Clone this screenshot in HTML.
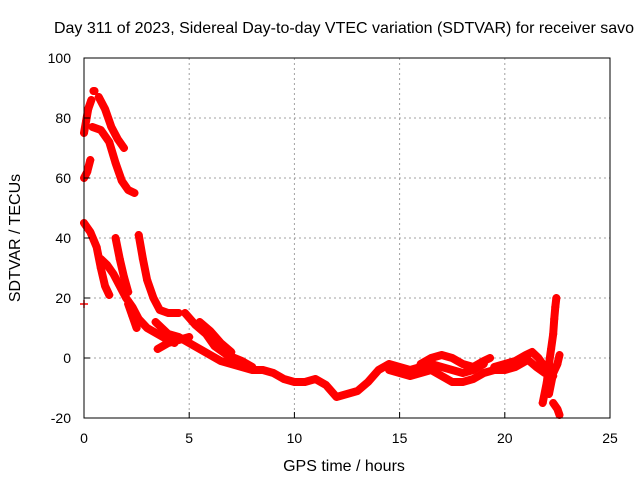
<!DOCTYPE html>
<html><head><meta charset="utf-8"><style>
body{margin:0;background:#fff}
svg{display:block;font-family:"Liberation Sans",sans-serif}
</style></head><body>
<svg id="chart" width="640" height="480">
<rect width="640" height="480" fill="#fff"/>
<g id="grid"></g>
<g id="series"></g>
<rect x="84" y="58" width="526" height="360" fill="none" stroke="#000" stroke-width="1"/>
<g id="ticks"></g>
<text x="344" y="33" text-anchor="middle" font-size="16">Day 311 of 2023, Sidereal Day-to-day VTEC variation (SDTVAR) for receiver savo</text>
<text x="344" y="471" text-anchor="middle" font-size="16">GPS time / hours</text>
<text transform="translate(20,238) rotate(-90)" text-anchor="middle" font-size="16">SDTVAR / TECUs</text>
</svg>
<script>
const xTicks=[0,5,10,15,20,25];
const yTicks=[-20,0,20,40,60,80,100];
const tracks=[
[[0,60],[0.15,62],[0.3,66]],
[[0,75],[0.1,79],[0.2,83],[0.35,86]],
[[0.45,89],[0.5,89]],
[[0.7,87],[1.0,83],[1.3,77],[1.6,73],[1.9,70]],
[[0.4,77],[0.8,76],[1.2,72],[1.5,65],[1.8,59],[2.1,56],[2.4,55]],
[[0,45],[0.3,42],[0.6,37],[0.8,30],[1.0,24],[1.2,21]],
[[0.8,33],[1.1,31],[1.4,28],[1.7,24],[2.0,20],[2.3,17],[2.6,13],[3.0,10],[3.5,8],[4,6],[4.3,5]],
[[1.5,40],[1.7,33],[1.9,27],[2.1,22]],
[[2.6,41],[2.8,33],[3.0,26],[3.3,20],[3.6,16],[4.0,15],[4.5,15]],
[[2.1,18],[2.3,14],[2.5,10]],
[[3.5,3],[4.0,5],[4.5,6],[5,7]],
[[3.4,12],[4,8],[4.5,7],[5,5],[5.5,3],[6,1],[6.5,-1],[7,-2],[7.5,-3],[8,-4],[8.5,-4],[9,-5],[9.5,-7],[10,-8],[10.5,-8],[11,-7],[11.5,-9],[12,-13],[12.5,-12],[13,-11],[13.5,-8],[14,-4],[14.5,-2],[15,-3],[15.5,-4],[16,-3],[16.5,-2],[17,-3],[17.5,-4],[18,-5],[18.5,-4],[19,-2]],
[[4.8,15],[5.3,11],[5.8,8],[6.2,4],[6.8,1],[7.5,-1],[8,-3]],
[[5.5,12],[6,9],[6.5,5],[7,2]],
[[14.5,-4],[15,-5],[15.5,-6],[16,-5],[16.5,-4],[17,-6],[17.5,-8],[18,-8],[18.5,-7],[19,-5],[19.5,-4],[20,-4],[20.5,-3],[21,-1]],
[[16,-2],[16.5,0],[17,1],[17.5,0],[18,-2],[18.5,-3],[19,-1],[19.3,0]],
[[19.5,-3],[20,-2],[20.5,-1],[21,1],[21.3,2],[21.6,0],[22,-4],[22.3,-6]],
[[21,0],[21.5,-3],[21.9,-5]],
[[21.8,-15],[22,-8],[22.1,-2],[22.2,3],[22.3,8],[22.35,13],[22.4,17],[22.45,20]],
[[22.3,-15],[22.5,-17],[22.6,-19]],
[[22.1,-12],[22.3,-5],[22.5,-2],[22.6,1]],
[[0,18]]
];
const NS='http://www.w3.org/2000/svg';
const sx=v=>84+v*526/25;
const sy=v=>418-(v+20)*3;
const grid=document.getElementById('grid'),ticks=document.getElementById('ticks'),ser=document.getElementById('series');
function mk(tag,attrs,parent){const e=document.createElementNS(NS,tag);for(const k in attrs)e.setAttribute(k,attrs[k]);parent.appendChild(e);return e;}
xTicks.forEach(t=>{
  if(t>0&&t<25){const g=mk('line',{x1:sx(t),x2:sx(t),y1:58,y2:418,stroke:'#a0a0a0','stroke-dasharray':'2,3'},grid);
  
  }
  const tk=mk('line',{x1:sx(t),x2:sx(t),y1:418,y2:412,stroke:'#000'},ticks);
  
  
  const l=mk('text',{x:sx(t),y:443,'text-anchor':'middle','font-size':14},ticks);l.textContent=t;
  
  
});
yTicks.forEach(t=>{
  if(t>-20&&t<100){const g=mk('line',{x1:84,x2:610,y1:sy(t),y2:sy(t),stroke:'#a0a0a0','stroke-dasharray':'2,3'},grid);
  
  }
  const tk=mk('line',{x1:84,x2:90,y1:sy(t),y2:sy(t),stroke:'#000'},ticks);
  
  
  const l=mk('text',{x:71,y:sy(t)+5,'text-anchor':'end','font-size':14},ticks);l.textContent=t;
  
  
});
tracks.forEach(tr=>{
  const pts=tr.map(p=>sx(p[0])+','+sy(p[1])).join(' ');
  const pl=mk('polyline',{points:pts,fill:'none',stroke:'#ff0000','stroke-width':8,'stroke-linejoin':'round','stroke-linecap':'round'},ser);
  
  
  tr.forEach(p=>{
    const x=sx(p[0]),y=sy(p[1]);
    const m=mk('path',{d:`M${x-4},${y}H${x+4}M${x},${y-4}V${y+4}`,stroke:'#ff0000','stroke-width':1.5},ser);
    
    
  });
});
</script>
</body></html>
